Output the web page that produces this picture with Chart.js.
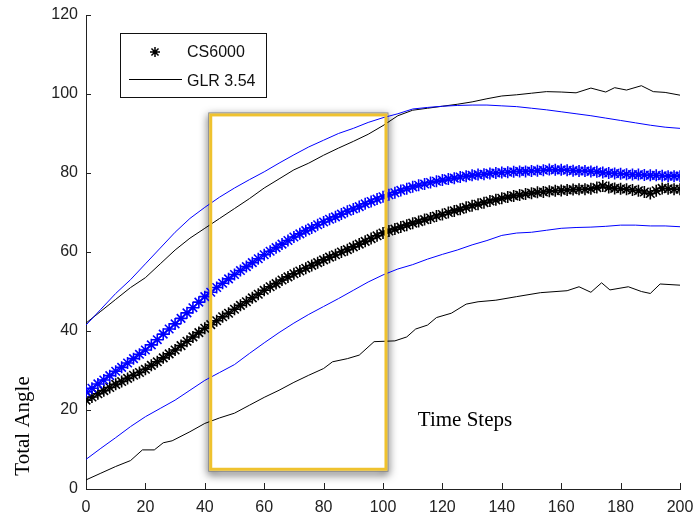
<!DOCTYPE html>
<html>
<head>
<meta charset="utf-8">
<script src="https://cdn.jsdelivr.net/npm/chart.js@4/dist/chart.umd.min.js"></script>
<style>
  html, body { margin: 0; padding: 0; background: #fff; }
  canvas { display: block; }
</style>
</head>
<body>
<canvas id="c" width="696" height="517"></canvas>
<script>
// ---- axis ticks ----
const xTicks = [0, 20, 40, 60, 80, 100, 120, 140, 160, 180, 200];
const yTicks = [0, 20, 40, 60, 80, 100, 120];
const seriesNames = ['CS6000', 'GLR 3.54'];
const xTitle = 'Time Steps';
const yTitle = 'Total Angle';

// ---- mean curves, sampled every 2nd time step ----
const meanSteps = Array.from({ length: 101 }, (_, i) => i * 2);
const meanBlue = [
  24.6, 25.5, 26.6, 27.6, 28.7, 29.8, 30.8, 31.9, 33.0, 34.1,
  35.2, 36.5, 37.8, 39.2, 40.5, 41.8, 43.2, 44.6, 45.9, 47.3,
  48.7, 49.8, 51.0, 52.1, 53.2, 54.3, 55.3, 56.3, 57.3, 58.3,
  59.3, 60.2, 61.1, 62.0, 62.9, 63.8, 64.6, 65.4, 66.1, 66.9,
  67.6, 68.3, 68.9, 69.6, 70.3, 70.9, 71.5, 72.2, 72.8, 73.4,
  74.0, 74.5, 75.0, 75.6, 76.0, 76.5, 76.9, 77.2, 77.6, 77.9,
  78.2, 78.5, 78.7, 79.0, 79.2, 79.4, 79.6, 79.7, 79.9, 80.0,
  80.1, 80.2, 80.3, 80.4, 80.4, 80.5, 80.6, 80.7, 80.9, 80.8,
  80.8, 80.7, 80.6, 80.5, 80.5, 80.4, 80.3, 80.1, 80.0, 79.9,
  79.8, 79.7, 79.6, 79.6, 79.5, 79.4, 79.4, 79.3, 79.2, 79.2,
  79.2
];
const meanBlack = [
  22.5, 23.3, 24.1, 24.9, 25.7, 26.5, 27.2, 28.0, 28.8, 29.5,
  30.3, 31.3, 32.2, 33.2, 34.2, 35.2, 36.3, 37.4, 38.5, 39.6,
  40.7, 41.6, 42.6, 43.6, 44.5, 45.5, 46.5, 47.4, 48.4, 49.3,
  50.3, 51.2, 52.0, 52.9, 53.7, 54.5, 55.2, 55.9, 56.6, 57.3,
  58.0, 58.7, 59.3, 60.0, 60.6, 61.3, 62.0, 62.7, 63.4, 64.1,
  64.8, 65.3, 65.8, 66.3, 66.8, 67.3, 67.7, 68.2, 68.6, 69.1,
  69.5, 70.0, 70.4, 70.8, 71.3, 71.7, 72.1, 72.5, 72.9, 73.2,
  73.6, 73.9, 74.2, 74.4, 74.7, 74.9, 75.1, 75.2, 75.4, 75.5,
  75.6, 75.7, 75.8, 75.9, 75.9, 76.0, 76.3, 76.7, 76.3, 76.1,
  76.0, 75.9, 75.7, 75.5, 75.2, 74.8, 75.5, 76.1, 76.0, 75.9,
  75.9
];

// ---- bounds ----
const boundSteps = [
  0, 5, 10, 15, 20, 25, 30, 35, 40, 45, 50, 55, 60, 65, 70, 75, 80, 85, 90, 95,
  100, 105, 110, 115, 120, 125, 130, 135, 140, 145, 150, 155, 160, 165, 170, 175,
  180, 185, 190, 195, 200
];
const upperBlue = [
  41.5, 45.5, 49.5, 53.0, 57.0, 61.0, 65.0, 68.5, 71.3, 73.9,
  76.2, 78.3, 80.3, 82.5, 84.6, 86.6, 88.3, 90.0, 91.3, 92.8,
  94.0, 95.0, 96.2, 96.6, 96.9, 97.1, 97.2, 97.2, 97.0, 96.8,
  96.4, 96.0, 95.5, 95.0, 94.5, 93.9, 93.3, 92.7, 92.1, 91.6,
  91.3
];
const lowerBlue = [
  7.5, 10.3, 13.0, 15.8, 18.3, 20.4, 22.5, 25.0, 27.5, 29.5,
  31.5, 34.3, 37.0, 39.6, 42.0, 44.2, 46.2, 48.2, 50.3, 52.4,
  54.2, 55.7, 56.8, 58.2, 59.4, 60.5, 61.8, 62.9, 64.2, 64.8,
  65.0, 65.5, 66.0, 66.2, 66.3, 66.5, 66.8, 66.8, 66.6, 66.6,
  66.4
];
const upperBlackSteps = [
  0, 5, 10, 15, 20, 25, 30, 35, 40, 45, 50, 55, 60, 65, 70, 75, 80, 85, 90, 95,
  100, 105, 110, 115, 120, 125, 130, 135, 140, 145, 150, 155, 160, 165, 170,
  175, 178, 182, 187, 191, 195, 200
];
const upperBlack = [
  42.0, 45.0, 48.0, 51.0, 53.5, 57.0, 60.5, 63.5, 66.0, 68.5,
  71.0, 73.5, 76.2, 78.5, 80.8, 82.5, 84.5, 86.3, 88.0, 89.8,
  92.0, 94.5, 95.9, 96.4, 96.9, 97.4, 98.0, 98.8, 99.5, 99.8,
  100.2, 100.6, 100.5, 100.3, 101.5,
  100.5, 101.6, 101.0, 102.1, 100.6, 100.4, 99.7
];
const lowerBlackSteps = [
  0, 5, 10, 15, 19, 23, 26, 29, 35, 40, 45, 50, 55, 60, 65, 70, 75, 80, 83, 88,
  92, 97, 104, 108, 111, 115, 118, 123, 128, 132, 138, 145, 153, 162, 166, 170,
  173.6, 176.4, 182.6, 187, 190, 193.3, 200
];
const lowerBlack = [
  2.3, 4.0, 5.7, 7.2, 9.9, 9.9, 11.7, 12.2, 14.5, 16.6,
  18.0, 19.2, 21.2, 23.2, 25.0, 27.0, 28.8, 30.5, 32.2, 33.0,
  33.9, 37.3, 37.5, 38.5, 40.5, 41.5, 43.4, 44.5, 46.8, 47.4,
  47.8, 48.7, 49.7, 50.2, 51.2, 49.8,
  52.2, 50.4, 51.2, 50.0, 49.5, 51.9, 51.6
];

// highlighted window (time step range and angle range)
const windowSteps = [42, 101];
const windowAngles = [5, 94.7];

const pts = (xs, ys) => xs.map((x, i) => ({ x, y: ys[i] }));

const BLUE = '#0000ff';
const BLACK = '#000000';
const SANS = '"Liberation Sans", Arial, sans-serif';
const SERIF = '"Liberation Serif", "Times New Roman", serif';

function lineSet(data, color) {
  return {
    data, showLine: true, borderColor: color, borderWidth: 1,
    pointRadius: 0, pointHoverRadius: 0, tension: 0, fill: false
  };
}
function starSet(data, color) {
  return {
    data, showLine: false, pointStyle: 'star', pointRadius: 6,
    pointBorderWidth: 1.6, borderColor: color, backgroundColor: color,
    pointHoverRadius: 6
  };
}

// inward tick marks, shadowed highlight frame, legend box and free-standing titles
const decor = {
  id: 'decor',
  beforeDatasetsDraw(chart) {
    const { ctx, scales: { x, y } } = chart;
    const l = x.getPixelForValue(windowSteps[0]);
    const r = x.getPixelForValue(windowSteps[1]);
    const t = y.getPixelForValue(windowAngles[1]);
    const b = y.getPixelForValue(windowAngles[0]);
    ctx.save();
    // shadow only outside of the frame
    ctx.beginPath();
    ctx.rect(0, 0, chart.width, chart.height);
    ctx.rect(l - 1.5, t - 1.5, r - l + 3, b - t + 3);
    ctx.clip('evenodd');
    ctx.shadowColor = 'rgba(0,0,0,0.75)';
    ctx.shadowBlur = 9;
    ctx.shadowOffsetX = 0;
    ctx.shadowOffsetY = 3;
    ctx.strokeStyle = 'rgba(130,130,130,0.9)';
    ctx.lineWidth = 5;
    ctx.strokeRect(l, t, r - l, b - t);
    ctx.restore();
  },
  afterDatasetsDraw(chart) {
    const { ctx, scales: { x, y } } = chart;
    const l = x.getPixelForValue(windowSteps[0]);
    const r = x.getPixelForValue(windowSteps[1]);
    const t = y.getPixelForValue(windowAngles[1]);
    const b = y.getPixelForValue(windowAngles[0]);
    ctx.save();
    ctx.strokeStyle = '#efc22e';
    ctx.lineWidth = 3;
    ctx.strokeRect(l, t, r - l, b - t);
    ctx.restore();
  },
  afterDraw(chart) {
    const { ctx, scales: { x, y }, chartArea } = chart;
    ctx.save();
    ctx.strokeStyle = '#222';
    ctx.lineWidth = 1;
    ctx.beginPath();
    xTicks.forEach(v => {
      const px = Math.round(x.getPixelForValue(v)) + 0.5;
      ctx.moveTo(px, chartArea.bottom);
      ctx.lineTo(px, chartArea.bottom - 6);
    });
    yTicks.forEach(v => {
      const py = Math.round(y.getPixelForValue(v)) + 0.5;
      ctx.moveTo(chartArea.left, py);
      ctx.lineTo(chartArea.left + 5, py);
    });
    ctx.stroke();

    // legend
    ctx.fillStyle = '#fff';
    ctx.fillRect(120.5, 33.5, 146, 64);
    ctx.strokeStyle = '#111';
    ctx.strokeRect(120.5, 33.5, 146, 64);
    // asterisk marker
    const sx = 155, sy = 52, sr = 5;
    ctx.strokeStyle = BLACK;
    ctx.lineWidth = 1.5;
    ctx.beginPath();
    for (let k = 0; k < 4; k++) {
      const a = k * Math.PI / 4;
      ctx.moveTo(sx - sr * Math.cos(a), sy - sr * Math.sin(a));
      ctx.lineTo(sx + sr * Math.cos(a), sy + sr * Math.sin(a));
    }
    ctx.stroke();
    ctx.lineWidth = 1;
    ctx.beginPath();
    ctx.moveTo(129, 79.5);
    ctx.lineTo(182, 79.5);
    ctx.stroke();
    ctx.fillStyle = '#111';
    ctx.font = '16px ' + SANS;
    ctx.textAlign = 'left';
    ctx.textBaseline = 'middle';
    ctx.fillText(seriesNames[0], 187, 53);
    ctx.fillText(seriesNames[1], 187, 82);

    // titles
    ctx.fillStyle = '#000';
    ctx.font = '21px ' + SERIF;
    ctx.textAlign = 'center';
    ctx.textBaseline = 'alphabetic';
    ctx.fillText(xTitle, 465, 426);
    ctx.save();
    ctx.translate(29, 426);
    ctx.rotate(-Math.PI / 2);
    ctx.fillText(yTitle, 0, 0);
    ctx.restore();
    ctx.restore();
  }
};

new Chart(document.getElementById('c'), {
  type: 'scatter',
  data: {
    datasets: [
      lineSet(pts(boundSteps, upperBlue), BLUE),
      lineSet(pts(upperBlackSteps, upperBlack), BLACK),
      lineSet(pts(boundSteps, lowerBlue), BLUE),
      lineSet(pts(lowerBlackSteps, lowerBlack), BLACK),
      starSet(pts(meanSteps, meanBlue), BLUE),
      starSet(pts(meanSteps, meanBlack), BLACK)
    ]
  },
  options: {
    responsive: false,
    animation: false,
    devicePixelRatio: 1,
    layout: { padding: { left: 0, right: 16, top: 15, bottom: 0 } },
    plugins: { legend: { display: false }, tooltip: { enabled: false } },
    scales: {
      x: {
        type: 'linear', min: 0, max: 200,
        afterFit(s) { s.height = 28; s.paddingLeft = 0; s.paddingRight = 0; },
        afterBuildTicks(s) { s.ticks = xTicks.map(v => ({ value: v })); },
        grid: { display: false, drawTicks: false },
        border: { display: true, color: '#222', width: 1 },
        ticks: { padding: 9, color: '#222', maxRotation: 0, autoSkip: false,
                 font: { family: SANS, size: 16 } }
      },
      y: {
        type: 'linear', min: 0, max: 120,
        afterFit(s) { s.width = 86; s.paddingTop = 0; s.paddingBottom = 0; },
        afterBuildTicks(s) { s.ticks = yTicks.map(v => ({ value: v })); },
        grid: { display: false, drawTicks: false },
        border: { display: true, color: '#222', width: 1 },
        ticks: { padding: 8, color: '#222', autoSkip: false,
                 font: { family: SANS, size: 16 } }
      }
    }
  },
  plugins: [decor]
});
</script>
</body>
</html>
